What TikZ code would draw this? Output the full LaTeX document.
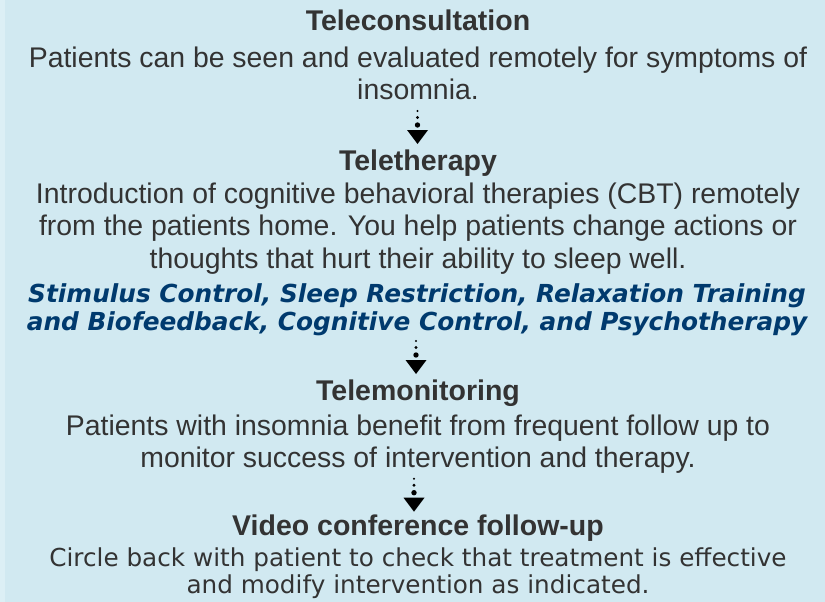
\documentclass[tikz,border=0pt]{standalone}
\usepackage{fontspec}
\setmainfont{Liberation Sans}
\newfontfamily\verd{DejaVu Sans}
\definecolor{bgblue}{HTML}{D1E9F1}
\definecolor{stripblue}{HTML}{DCEFF5}
\definecolor{txtgray}{HTML}{333333}
\definecolor{navy}{HTML}{003A6E}
\tikzset{
  head/.style={anchor=base, inner sep=0pt, text=txtgray, font=\fontsize{28.5}{32}\selectfont\bfseries},
  body/.style={anchor=base, inner sep=0pt, text=txtgray, font=\fontsize{28.4}{32}\selectfont},
  emph/.style={anchor=base, inner sep=0pt, text=navy, font=\verd\fontsize{24.8}{27}\selectfont\bfseries\itshape},
  vbody/.style={anchor=base, inner sep=0pt, text=txtgray, font=\verd\fontsize{24.7}{27}\selectfont},
  dotarrow/.pic={
    \fill (0,-19) circle (1.1);
    \fill (0,-12.5) circle (1.6);
    \fill (0,-5) circle (2.7);
    \fill (-10.5,0) -- (10.5,0) -- (0,14) -- cycle;
  }
}
\begin{document}
\begin{tikzpicture}[x=1pt,y=-1pt]
\useasboundingbox (0,0) rectangle (825,602);
\fill[bgblue] (0,0) rectangle (825,602);
\fill[stripblue] (0,0) rectangle (5,602);
% Teleconsultation
\node[head] (h1) at (418,31) {Teleconsultation};
\node[body] (b1a) at (418,67.3) {Patients can be seen and evaluated remotely for symptoms of};
\node[body] (b1b) at (418,99.5) {insomnia.};
\pic at (417.5,130) {dotarrow};
% Teletherapy
\node[head] (h2) at (418,170) {Teletherapy};
\node[body] (b2a) at (418,203) {Introduction of cognitive behavioral therapies (CBT) remotely};
\node[body] (b2b) at (418,235.5) {from the patients home. You help patients change actions or};
\node[body] (b2c) at (418,268) {thoughts that hurt their ability to sleep well.};
\node[emph] (e2a) at (417,302) {Stimulus Control, Sleep Restriction, Relaxation Training};
\node[emph] (e2b) at (417,330) {and Biofeedback, Cognitive Control, and Psychotherapy};
\pic at (416,360) {dotarrow};
% Telemonitoring
\node[head] (h3) at (418,400) {Telemonitoring};
\node[body] (b3a) at (418,435) {Patients with insomnia benefit from frequent follow up to};
\node[body] (b3b) at (418,467) {monitor success of intervention and therapy.};
\pic at (414,497.7) {dotarrow};
% Video conference
\node[head] (h4) at (418,535) {Video conference follow-up};
\node[vbody] (v4a) at (418,566) {Circle back with patient to check that treatment is effective};
\node[vbody] (v4b) at (418,593) {and modify intervention as indicated.};
\end{tikzpicture}
\end{document}
